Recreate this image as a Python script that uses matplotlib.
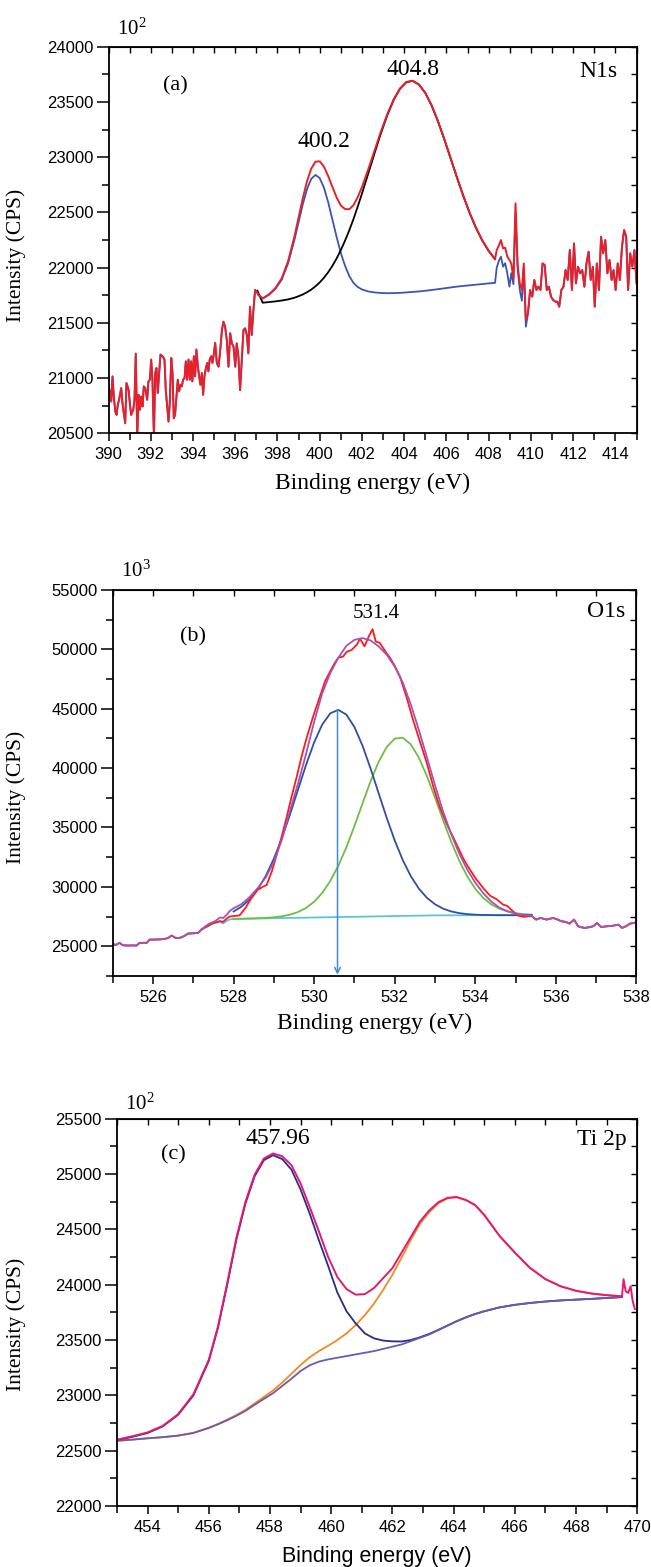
import numpy as np
import matplotlib
matplotlib.use('Agg')
import matplotlib.pyplot as plt
from matplotlib.ticker import MultipleLocator, FormatStrFormatter

SERIF = 'Liberation Serif'
SANS = 'Liberation Sans'
plt.rcParams['font.family'] = [SANS, 'DejaVu Sans']
plt.rcParams['mathtext.fontset'] = 'custom'
plt.rcParams['mathtext.rm'] = SERIF

# ---------------- Panel (a) N1s ----------------
E_A_LEFT = [390.00, 390.06, 390.13, 390.19, 390.25, 390.32, 390.38, 390.44, 390.50, 390.60, 390.66, 390.79,
            390.85, 390.95, 391.01, 391.07, 391.17, 391.23, 391.29, 391.36, 391.42, 391.48, 391.55, 391.61,
            391.67, 391.74, 391.83, 391.89, 391.96,
            392.02, 392.08, 392.15, 392.21, 392.27, 392.33, 392.40, 392.46, 392.56, 392.65, 392.71, 392.78,
            392.84, 392.90, 392.97,
            393.03, 393.09, 393.15, 393.22, 393.28, 393.34, 393.41, 393.47, 393.53, 393.60, 393.66, 393.72,
            393.79, 393.85, 393.91, 393.97,
            394.04, 394.10, 394.16, 394.23, 394.29, 394.35, 394.42, 394.48, 394.54, 394.61, 394.67, 394.73,
            394.79, 394.86, 394.92, 394.98,
            395.05, 395.13, 395.21, 395.29, 395.37, 395.44, 395.52, 395.60, 395.68, 395.76, 395.84, 395.92,
            396.00, 396.07, 396.15, 396.23, 396.31, 396.39, 396.47, 396.55, 396.62, 396.70, 396.78, 396.86,
            396.94, 397.02, 397.10]
I_A_LEFT = [20939, 20879, 20788, 21015, 20833, 20697, 20667, 20758, 20803, 20909, 20773, 20591,
            20955, 20894, 20773, 20667, 20712, 20803, 21221, 20470, 20848, 20712, 20833, 20742,
            20924, 20909, 20803, 20970, 20985,
            21167, 20985, 20470, 21045, 21091, 20864, 21045, 21212, 21197, 21167, 20894, 20742,
            20606, 20773, 21182,
            21045, 20636, 20667, 20833, 20985, 20879, 20939, 20924, 20985, 21000, 21151, 20985,
            21167, 20985, 21151, 20970,
            21197, 21015, 21258, 21106, 21015, 20939, 21045, 20848, 21015, 21091, 21136, 21060,
            21167, 21197, 21136, 21212,
            21318, 21133, 21103, 21254, 21435, 21510, 21465, 21344, 21103, 21405, 21314, 21284,
            21103, 21314, 21194, 20890, 21164, 21435, 21450, 21390, 21224, 21646, 21390, 21616,
            21797, 21781, 21752]

E_A_FIT = [397.3, 397.6, 397.9, 398.2, 398.5, 398.8, 399.0, 399.2, 399.4, 399.6, 399.8, 400.0, 400.2,
           400.4, 400.6, 400.8, 401.0, 401.2, 401.4, 401.6, 401.8, 402.0, 402.3, 402.6, 402.9, 403.2,
           403.5, 403.8, 404.1, 404.4, 404.7, 405.0, 405.3, 405.6, 405.9, 406.2, 406.5, 406.8, 407.1,
           407.4, 407.7, 408.0, 408.3]
RED_A_FIT = [21722, 21758, 21814, 21902, 22057, 22279, 22455, 22629, 22783, 22897, 22959, 22962, 22914,
             22830, 22730, 22635, 22562, 22530, 22528, 22566, 22638, 22730, 22891, 23064, 23234, 23390,
             23523, 23622, 23680, 23692, 23657, 23581, 23467, 23324, 23161, 22988, 22815, 22648, 22494,
             22359, 22244, 22151, 22076]
BLUE_A_FIT = [21720, 21754, 21807, 21890, 22038, 22249, 22414, 22575, 22712, 22804, 22839, 22810, 22723,
              22592, 22436, 22277, 22131, 22016, 21923, 21861, 21824, 21802, 21784, 21775, 21770, 21768,
              21769, 21771, 21776, 21780, 21784, 21790, 21797, 21805, 21813, 21820, 21828, 21834, 21840,
              21845, 21851, 21857, 21862]
BLACK_A_FIT = [21682, 21688, 21694, 21702, 21712, 21727, 21741, 21757, 21777, 21801, 21831, 21866, 21908,
               21958, 22016, 22083, 22159, 22245, 22338, 22441, 22553, 22670, 22853, 23039, 23218, 23380,
               23517, 23619, 23678, 23691, 23657, 23581, 23467, 23324, 23161, 22988, 22815, 22648, 22494,
               22359, 22244, 22151, 22076]
BLACK_A_START = (397.05, 21790)

E_A_RIGHT = [408.38, 408.48, 408.58, 408.68, 408.78, 408.88, 408.98, 409.07, 409.17, 409.27, 409.37, 409.47,
             409.57, 409.66, 409.76, 409.86, 409.96, 410.06, 410.16, 410.26, 410.35, 410.45, 410.55, 410.65,
             410.75, 410.85, 410.95, 411.05, 411.15, 411.25, 411.34, 411.44, 411.54, 411.64, 411.74, 411.84,
             411.94, 412.04, 412.13, 412.23, 412.33, 412.43, 412.53, 412.63, 412.73, 412.83, 412.93, 413.02,
             413.12, 413.22, 413.32, 413.42, 413.52, 413.62, 413.72, 413.82, 413.91, 414.01, 414.11, 414.21,
             414.31, 414.41, 414.51, 414.60, 414.70, 414.80, 414.90, 415.00]
RED_A_RIGHT = [22159, 22200, 22250, 22174, 22180, 22100, 22069, 22038, 21900, 22581, 22023, 21857,
               21797, 22038, 21526, 21586, 21797, 21737, 21888, 21797, 21827, 21797, 22038, 22023,
               21797, 21827, 21737, 21707, 21692, 21692, 21646, 21797, 21827, 21978, 21888, 22159,
               21797, 22219, 21857, 22008, 21948, 21978, 21827, 22038, 22144, 21888, 22008, 21646,
               22038, 21797, 22280, 22129, 22250, 21948, 22069, 21888, 21978, 21797, 22038, 21888,
               22189, 22340, 22280, 21797, 22129, 22008, 22159, 21857]
BLUE_A_RIGHT = [22000, 22060, 22099, 22008, 22040, 21950, 21827, 21950, 21850, 22491, 21990, 21800,
                21700, 22000, 21465, 21586, 21797, 21737, 21888, 21797, 21827, 21797, 22038, 22023,
                21797, 21827, 21737, 21707, 21692, 21692, 21646, 21797, 21827, 21978, 21888, 22159,
                21797, 22219, 21857, 22008, 21948, 21978, 21827, 22038, 22144, 21888, 22008, 21646,
                22038, 21797, 22280, 22129, 22250, 21948, 22069, 21888, 21978, 21797, 22038, 21888,
                22189, 22340, 22280, 21797, 22129, 22008, 22159, 21857]

# ---------------- Panel (b) O1s ----------------
E_B_LEFT = [525.0, 525.05, 525.1, 525.17, 525.25, 525.38, 525.5, 525.59, 525.67, 525.79, 525.85, 525.92,
            526.0, 526.08, 526.18, 526.29, 526.38, 526.46, 526.56, 526.66, 526.77, 526.87, 527.0, 527.12, 527.2]
I_B_LEFT = [25286, 25084, 25150, 25286, 25084, 25056, 25070, 25056, 25286, 25286, 25300, 25563,
            25560, 25563, 25580, 25619, 25700, 25900, 25700, 25700, 25850, 26067, 26090, 26123, 26403]
E_B_EDGE = [527.29, 527.37, 527.45, 527.53, 527.6, 527.66, 527.74, 527.82, 527.9]
PURPLE_B_EDGE = [26650, 26850, 26980, 27100, 27250, 27420, 27380, 27600, 27950]
CYAN_B_EDGE = [26560, 26680, 26850, 26950, 27000, 27050, 26920, 27110, 27250]
RED_B_EDGE = [26580, 26720, 26880, 26980, 27050, 27120, 27050, 27300, 27500]

E_B_FIT = [528.0, 528.2, 528.4, 528.6, 528.8, 529.0, 529.2, 529.4, 529.6, 529.8, 530.0, 530.2, 530.4,
           530.6, 530.8, 531.0, 531.2, 531.4, 531.6, 531.8, 532.0, 532.2, 532.4, 532.6, 532.8, 533.0,
           533.2, 533.4, 533.6, 533.8, 534.0, 534.2, 534.4, 534.6, 534.8, 535.0, 535.2, 535.4]
CYAN_B_FIT = [27300, 27312, 27324, 27336, 27348, 27360, 27372, 27384, 27396, 27408, 27420, 27432, 27444,
              27456, 27468, 27480, 27492, 27504, 27516, 27528, 27540, 27552, 27564, 27576, 27588, 27600,
              27602, 27604, 27606, 27607, 27608, 27609, 27610, 27611, 27612, 27613, 27614, 27615]
BLUE_B_FIT = [27926, 28340, 28945, 29794, 30927, 32370, 34108, 36085, 38192, 40281, 42169, 43666, 44613,
              44906, 44501, 43457, 41890, 39972, 37888, 35818, 33908, 32250, 30895, 29845, 29073, 28534,
              28166, 27932, 27789, 27705, 27658, 27634, 27622, 27616, 27614, 27614, 27614, 27615]
GREEN_B_FIT = [27302, 27316, 27332, 27355, 27387, 27438, 27522, 27660, 27882, 28229, 28747, 29485, 30488,
               31777, 33340, 35124, 37023, 38883, 40528, 41776, 42483, 42559, 41999, 40873, 39317, 37510,
               35618, 33816, 32214, 30883, 29835, 29061, 28517, 28153, 27922, 27783, 27703, 27660]
PURPLE_B_FIT = [28200, 28550, 29150, 29900, 30800, 32100, 34000, 36400, 38700, 41200, 43900, 46300, 48000,
                49300, 50300, 50800, 50950, 50750, 50250, 49550, 48550, 47200, 45350, 43200, 40900, 38550,
                36350, 34450, 32800, 31450, 30350, 29450, 28750, 28250, 27950, 27750, 27620, 27560]
E_B_RED = [528.0, 528.15, 528.3, 528.45, 528.6, 528.72, 528.82, 528.95, 529.07, 529.19, 529.32, 529.44,
           529.57, 529.69, 529.81, 529.98, 530.15, 530.27, 530.39, 530.52, 530.6, 530.72, 530.81, 530.93,
           531.06, 531.14, 531.25, 531.35, 531.45, 531.53, 531.63, 531.76, 531.88, 532.01, 532.13, 532.30,
           532.46, 532.63, 532.79, 532.96, 533.12, 533.29, 533.49, 533.70, 533.80, 534.01, 534.22, 534.37,
           534.53, 534.69, 534.79, 534.89, 535.05, 535.2, 535.31]
RED_B = [27540, 27600, 28250, 29100, 29750, 30000, 30150, 31300, 32700, 34200, 35900, 37600,
         39300, 41000, 42500, 44400, 46100, 47300, 48100, 48900, 49300, 49400, 49800, 49950,
         50400, 50900, 50250, 51050, 51700, 50650, 50550, 49850, 49300, 48550, 47700, 45900,
         44000, 42200, 40500, 38400, 36700, 35300, 33900, 32400, 31800, 30700, 29800, 29250,
         28950, 28500, 28400, 28080, 27600, 27470, 27520]
E_B_RIGHT = [535.41, 535.51, 535.62, 535.77, 535.93, 536.04, 536.14, 536.24, 536.34, 536.45, 536.55, 536.63,
             536.71, 536.79, 536.86, 536.94, 537.02, 537.12, 537.2, 537.27, 537.35, 537.43, 537.55, 537.64,
             537.74, 537.84, 537.92, 538.0]
I_B_RIGHT = [27523, 27242, 27383, 27242, 27383, 27250, 27102, 27050, 26906, 27242, 26682, 26600,
             26542, 26580, 26626, 26700, 26962, 26626, 26650, 26682, 26700, 26738, 26822, 26542,
             26682, 26906, 26950, 27018]
ARROW_B_X = 530.58
ARROW_B_TOP = 44900

# ---------------- Panel (c) Ti 2p ----------------
E_C = [453.0, 453.5, 454.0, 454.5, 455.0, 455.5, 456.0,
       456.3, 456.6, 456.9, 457.2, 457.5, 457.8, 458.1, 458.4, 458.7, 459.0, 459.3, 459.6, 459.9, 460.2,
       460.5, 460.8, 461.1, 461.4, 461.7, 462.0, 462.3, 462.6, 462.9, 463.2, 463.5, 463.8, 464.1,
       464.4, 464.7, 465.0,
       465.5, 466.0, 466.5, 467.0, 467.5, 468.0, 468.5, 469.0, 469.5]
BG_C = [22590, 22600, 22612, 22622, 22636, 22660, 22705,
        22738, 22775, 22815, 22860, 22915, 22968, 23020, 23085, 23150, 23220, 23272, 23305, 23325, 23340,
        23355, 23370, 23385, 23400, 23420, 23440, 23460, 23490, 23520, 23550, 23590, 23630, 23670,
        23705, 23735, 23760,
        23795, 23818, 23835, 23848, 23858, 23865, 23872, 23880, 23888]
PINK_C = [22600, 22630, 22665, 22725, 22830, 23010, 23320,
          23620, 24010, 24420, 24750, 24995, 25140, 25186, 25160, 25080, 24915, 24700, 24480, 24250, 24070,
          23960, 23910, 23915, 23970, 24060, 24150, 24290, 24430, 24570, 24670, 24745, 24785, 24792,
          24765, 24720, 24630,
          24440, 24290, 24150, 24050, 23985, 23945, 23920, 23905, 23895]
NAVY_C = [22595, 22625, 22660, 22720, 22825, 23000, 23310,
          23610, 23995, 24405, 24735, 24980, 25125, 25170, 25135, 25040, 24860, 24640, 24400, 24170, 23930,
          23760, 23650, 23560, 23515, 23495, 23488, 23487, 23500, 23525, 23555, 23592, 23631, 23670,
          23705, 23735, 23760,
          23795, 23818, 23835, 23848, 23858, 23865, 23872, 23880, 23888]
ORANGE_C = [22590, 22600, 22612, 22623, 22637, 22662, 22708,
            22742, 22780, 22822, 22870, 22928, 22985, 23045, 23115, 23195, 23275, 23345, 23400, 23448, 23500,
            23560, 23635, 23725, 23830, 23955, 24090, 24245, 24405, 24550, 24655, 24735, 24780, 24790,
            24765, 24720, 24630,
            24440, 24290, 24150, 24050, 23985, 23945, 23920, 23905, 23895]
E_C_END = [469.55, 469.62, 469.7, 469.78, 469.85, 469.92]
PINK_C_END = [24050, 23940, 23925, 23985, 23850, 23780]

# ---------------- Figure ----------------
fig = plt.figure(figsize=(6.51, 15.67), dpi=100)
axa = fig.add_axes([0.1667, 0.7235, 0.8111, 0.2467])
axb = fig.add_axes([0.1731, 0.3772, 0.8046, 0.2463])
axc = fig.add_axes([0.1796, 0.0389, 0.7994, 0.2472])


def style(ax, xlim, ylim, xmaj, xmin, ymaj, ymin):
    ax.set_xlim(*xlim)
    ax.set_ylim(*ylim)
    ax.xaxis.set_major_locator(MultipleLocator(xmaj))
    ax.xaxis.set_minor_locator(MultipleLocator(xmin))
    ax.yaxis.set_major_locator(MultipleLocator(ymaj))
    ax.yaxis.set_minor_locator(MultipleLocator(ymin))
    ax.xaxis.set_major_formatter(FormatStrFormatter('%d'))
    ax.yaxis.set_major_formatter(FormatStrFormatter('%d'))
    ax.tick_params(axis='both', which='both', direction='out', top=False, right=False,
                   width=1.1, labelsize=12, colors='black')
    ax.tick_params(axis='y', which='major', length=9, pad=2)
    ax.tick_params(axis='y', which='minor', length=5)
    ax.tick_params(axis='x', which='major', length=6, pad=4)
    ax.tick_params(axis='x', which='minor', length=5)
    for s in ax.spines.values():
        s.set_linewidth(1.3)
    top = ax.secondary_xaxis('top')
    top.xaxis.set_major_locator(MultipleLocator(xmaj))
    top.xaxis.set_minor_locator(MultipleLocator(xmin))
    top.tick_params(which='both', direction='in', length=4, width=1.0, labeltop=False)
    right = ax.secondary_yaxis('right')
    right.yaxis.set_major_locator(MultipleLocator(ymaj))
    right.yaxis.set_minor_locator(MultipleLocator(ymin))
    right.tick_params(which='both', direction='in', length=4, width=1.0, labelright=False)


# Panel (a)
e_all = np.concatenate([E_A_LEFT, E_A_FIT, E_A_RIGHT])
i_blue = np.concatenate([I_A_LEFT, BLUE_A_FIT, BLUE_A_RIGHT])
i_red = np.concatenate([I_A_LEFT, RED_A_FIT, RED_A_RIGHT])
axa.plot(e_all, i_blue, color='#3a55b4', lw=1.3)
axa.plot(np.r_[BLACK_A_START[0], E_A_FIT], np.r_[BLACK_A_START[1], BLACK_A_FIT], color='black', lw=1.3)
axa.plot(e_all, i_red, color='#e8202a', lw=1.4)
style(axa, (390, 415), (20500, 24000), 2, 1, 500, 250)
axa.set_xlabel('Binding energy (eV)', family=SERIF, fontsize=17, labelpad=8)
axa.set_ylabel('Intensity (CPS)', family=SERIF, fontsize=15.5)
axa.yaxis.set_label_coords(-0.156, 0.461)
axa.text(0.016, 1.03, r'$\mathregular{10^2}$', transform=axa.transAxes, family=SERIF, fontsize=15,
         ha='left', va='baseline')
axa.text(0.103, 0.898, '(a)', transform=axa.transAxes, family=SERIF, fontsize=16, ha='left', va='center')
axa.text(0.963, 0.935, 'N1s', transform=axa.transAxes, family=SERIF, fontsize=17, ha='right', va='center')
axa.text(404.4, 23790, '404.8', family=SERIF, fontsize=17, ha='center', va='center')
axa.text(400.19, 23139, '400.2', family=SERIF, fontsize=17, ha='center', va='center')

# Panel (b)
axb.plot(np.concatenate([E_B_LEFT, E_B_EDGE, E_B_FIT, E_B_RIGHT]),
         np.concatenate([I_B_LEFT, CYAN_B_EDGE, CYAN_B_FIT, I_B_RIGHT]), color='#5cc6d6', lw=1.3)
axb.plot(E_B_FIT, GREEN_B_FIT, color='#6cbf45', lw=1.3)
axb.plot(E_B_FIT, BLUE_B_FIT, color='#2f4f9f', lw=1.3)
axb.plot(np.concatenate([E_B_LEFT, E_B_EDGE, E_B_RED, E_B_RIGHT]),
         np.concatenate([I_B_LEFT, RED_B_EDGE, RED_B, I_B_RIGHT]), color='#ff1a1a', lw=1.3)
axb.plot(np.concatenate([E_B_LEFT, E_B_EDGE, E_B_FIT, E_B_RIGHT]),
         np.concatenate([I_B_LEFT, PURPLE_B_EDGE, PURPLE_B_FIT, I_B_RIGHT]), color='#a553b5', lw=1.3)
style(axb, (525, 538), (22500, 55000), 2, 1, 5000, 2500)
axb.annotate('', xy=(ARROW_B_X, 22600), xytext=(ARROW_B_X, ARROW_B_TOP),
             arrowprops=dict(arrowstyle='->', color='#3d8bd6', lw=1.1, shrinkA=0, shrinkB=0,
                             mutation_scale=10))
axb.set_xlabel('Binding energy (eV)', family=SERIF, fontsize=17, labelpad=6)
axb.set_ylabel('Intensity (CPS)', family=SERIF, fontsize=15.5)
axb.yaxis.set_label_coords(-0.166, 0.462)
axb.text(0.016, 1.034, r'$\mathregular{10^3}$', transform=axb.transAxes, family=SERIF, fontsize=15,
         ha='left', va='baseline')
axb.text(0.128, 0.879, '(b)', transform=axb.transAxes, family=SERIF, fontsize=16, ha='left', va='center')
axb.text(0.978, 0.944, 'O1s', transform=axb.transAxes, family=SERIF, fontsize=17, ha='right', va='center')
axb.text(531.53, 52981, '531.4', family=SERIF, fontsize=15, ha='center', va='center')

# Panel (c)
axc.plot(E_C, ORANGE_C, color='#f28a22', lw=1.3)
axc.plot(E_C, NAVY_C, color='#262d8a', lw=1.3)
axc.plot(E_C, BG_C, color='#6c59ad', lw=1.3)
axc.plot(np.concatenate([E_C, E_C_END]), np.concatenate([PINK_C, PINK_C_END]), color='#e8186f', lw=1.4)
style(axc, (453, 470), (22000, 25500), 2, 1, 500, 250)
axc.set_xlabel('Binding energy (eV)', family=SANS, fontsize=15.5, labelpad=8)
axc.set_ylabel('Intensity (CPS)', family=SERIF, fontsize=15.5)
axc.yaxis.set_label_coords(-0.175, 0.47)
axc.text(0.016, 1.024, r'$\mathregular{10^2}$', transform=axc.transAxes, family=SERIF, fontsize=15,
         ha='left', va='baseline')
axc.text(0.084, 0.906, '(c)', transform=axc.transAxes, family=SERIF, fontsize=16, ha='left', va='center')
axc.text(0.980, 0.945, 'Ti 2p', transform=axc.transAxes, family=SERIF, fontsize=17, ha='right', va='center')
axc.text(458.25, 25322, '457.96', family=SERIF, fontsize=17, ha='center', va='center')

fig.savefig('out.png', dpi=100)
